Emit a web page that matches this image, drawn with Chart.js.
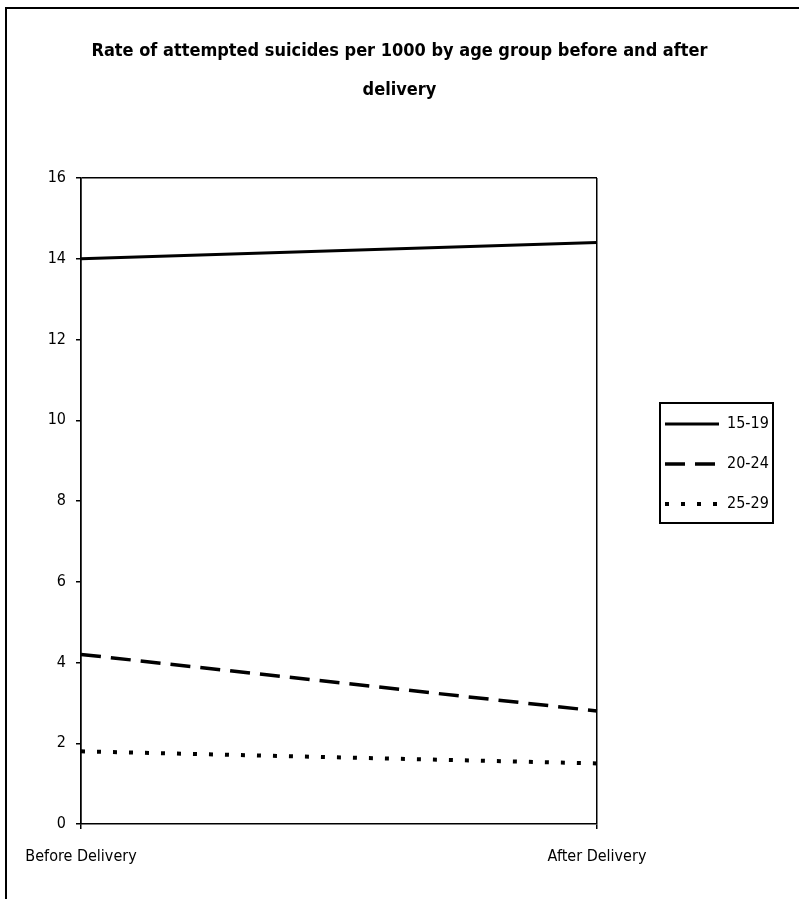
<!DOCTYPE html>
<html>
<head>
<meta charset="utf-8">
<script src="https://cdn.jsdelivr.net/npm/chart.js@4/dist/chart.umd.min.js"></script>
<style>
  html, body { margin: 0; padding: 0; background: #fff; overflow: hidden; }
  #frame { position: absolute; left: 5px; top: 7px; width: 820px; height: 920px; border: 2px solid #000; }
  #wrap { position: absolute; left: 0; top: 0; width: 799px; height: 899px; }
</style>
</head>
<body>
<div id="frame"></div>
<div id="wrap"><canvas id="chart"></canvas></div>
<script>
// Chart data
var categories = ['Before Delivery', 'After Delivery'];
var ageGroups = ['15-19', '20-24', '25-29'];
var rates1519 = [14.0, 14.4];
var rates2024 = [4.2, 2.8];
var rates2529 = [1.8, 1.5];
var yTicks = [0, 2, 4, 6, 8, 10, 12, 14, 16];

var narrow = "'Liberation Sans Narrow', 'Arial Narrow', 'DejaVu Sans Condensed', sans-serif";

// Place the legend and draw its frame
var legendBox = {
    id: 'legendBox',
    afterLayout: function (chart) {
        var lg = chart.legend;
        var w = lg.width, h = lg.height;
        lg.left = 641; lg.top = 392;
        lg.right = lg.left + w; lg.bottom = lg.top + h;
    },
    afterDraw: function (chart) {
        var lg = chart.legend;
        var ctx = chart.ctx;
        ctx.save();
        ctx.strokeStyle = '#000';
        ctx.lineWidth = 2;
        ctx.strokeRect(lg.left + 19, lg.top + 11, 113, 120);
        ctx.restore();
    }
};

new Chart(document.getElementById('chart'), {
    type: 'line',
    data: {
        labels: categories,
        datasets: [
            { label: ageGroups[0], data: rates1519, borderColor: '#000', borderWidth: 3, borderDash: [] },
            { label: ageGroups[1], data: rates2024, borderColor: '#000', borderWidth: 3.5, borderDash: [20, 10] },
            { label: ageGroups[2], data: rates2529, borderColor: '#000', borderWidth: 4, borderDash: [4, 12] }
        ]
    },
    options: {
        responsive: true,
        maintainAspectRatio: false,
        animation: false,
        events: [],
        elements: { point: { radius: 0 }, line: { tension: 0 } },
        layout: { padding: 0 },
        plugins: {
            title: {
                display: true,
                text: ['Rate of attempted suicides per 1000 by age group before and after', 'delivery'],
                color: '#000',
                font: { family: narrow, size: 18, weight: 'bold', lineHeight: '39px' },
                padding: { top: 32, bottom: 68 }
            },
            legend: {
                position: 'chartArea',
                align: 'start',
                labels: {
                    color: '#000',
                    font: { family: narrow, size: 16 },
                    usePointStyle: true,
                    pointStyle: 'line',
                    pointStyleWidth: 54,
                    padding: 24,
                    generateLabels: function (chart) {
                        var items = Chart.defaults.plugins.legend.labels.generateLabels(chart);
                        items.forEach(function (it) {
                            var ds = chart.data.datasets[it.datasetIndex];
                            it.lineDash = ds.borderDash;
                            it.lineWidth = ds.borderWidth;
                            it.strokeStyle = '#000';
                        });
                        return items;
                    }
                }
            },
            tooltip: { enabled: false }
        },
        scales: {
            x: {
                offset: false,
                afterFit: function (scale) { scale.height = 75; },
                grid: { color: '#000', lineWidth: 1.5, drawOnChartArea: true, tickLength: 5, tickColor: '#000' },
                border: { color: '#000', width: 1.5 },
                ticks: { color: '#000', font: { family: narrow, size: 16 }, padding: 18, maxRotation: 0 }
            },
            y: {
                min: 0,
                max: 16,
                afterFit: function (scale) { scale.width = 81; },
                afterBuildTicks: function (scale) {
                    scale.ticks = yTicks.map(function (v) { return { value: v }; });
                },
                grid: {
                    color: function (c) { return c.tick && c.tick.value === 16 ? '#000' : 'rgba(0,0,0,0)'; },
                    lineWidth: 1.5,
                    tickLength: 5,
                    tickColor: '#000'
                },
                border: { color: '#000', width: 1.5 },
                ticks: { color: '#000', font: { family: narrow, size: 16 }, padding: 10 }
            },
            // empty right-hand space that holds the legend
            side: {
                position: 'right',
                display: true,
                afterFit: function (scale) { scale.width = 202; },
                grid: { display: false },
                border: { display: false },
                ticks: { display: false }
            }
        }
    },
    plugins: [legendBox]
});
</script>
</body>
</html>
